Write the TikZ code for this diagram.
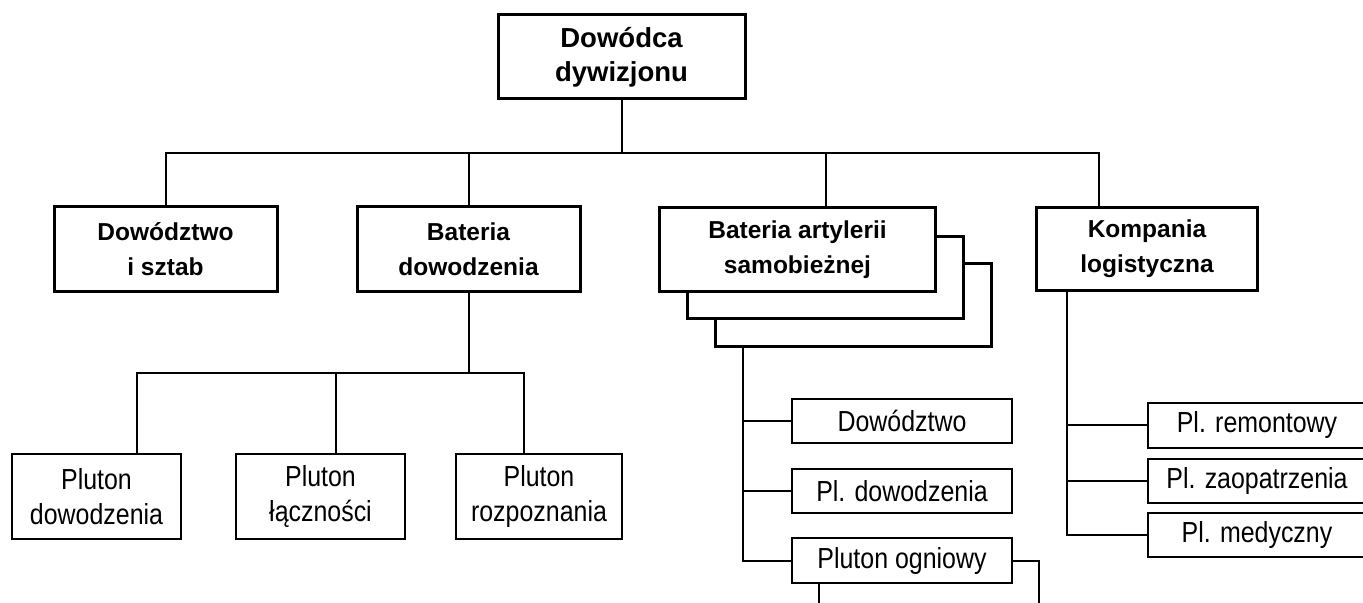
\documentclass[tikz,border=0pt]{standalone}
\usepackage{fontspec}
\setmainfont{Liberation Sans}
\newfontfamily\narrowfont{Liberation Sans}[FakeStretch=0.86]
\begin{document}
\begin{tikzpicture}[x=0.5pt, y=-0.5pt,
    unit/.style={draw, line width=1.5pt, fill=white, align=center, inner sep=0pt,
      font=\bfseries\fontsize{12.25}{17.5}\selectfont},
    sub/.style={draw, line width=1.2pt, fill=white, align=center, inner sep=0pt,
      font=\narrowfont\fontsize{14.5}{17.5}\selectfont},
    link/.style={line width=1pt}]
    \useasboundingbox (0,0) rectangle (1363,603);
    \clip (0,0) rectangle (1363,603);

    % commander
    \node[unit, font=\bfseries\fontsize{13.75}{17}\selectfont, minimum width=123.5pt, minimum height=42pt] (cmd) at (621.5,57) {Dowódca\\dywizjonu};

    % second level
    \node[unit, minimum width=111.5pt, minimum height=42.5pt] (hq) at (165.5,249.5) {Dowództwo\\i sztab};
    \node[unit, minimum width=111.5pt, minimum height=42.5pt] (bdow) at (468.5,249.5) {Bateria\\dowodzenia};
    \node[unit, minimum width=138pt, minimum height=41.5pt] (bas3) at (853,305.5) {};
    \node[unit, minimum width=138pt, minimum height=41pt] (bas2) at (825.5,277.5) {};
    \node[unit, minimum width=138pt, minimum height=42pt] (bas) at (797.5,250) {Bateria artylerii\\samobieżnej};
    \node[unit, minimum width=110.5pt, minimum height=41.5pt] (klog) at (1147,249) {Kompania\\logistyczna};

    \coordinate (bus) at (621.5,153);
    \coordinate (kbus) at (1099,153);
    \draw[link] (cmd.south) -- (bus);
    \draw[link] (hq.north) |- (kbus) -- (kbus |- klog.north);
    \draw[link] (bdow.north |- bus) -- (bdow.north);
    \draw[link] (bus -| bas2) -- (bas.north -| bas2);

    % bateria dowodzenia
    \node[sub, minimum width=84.5pt, minimum height=42.5pt] (pdow) at (96.5,496.5) {Pluton\\dowodzenia};
    \node[sub, minimum width=84.5pt, minimum height=42.5pt] (plac) at (320.5,496.5) {Pluton\\łączności};
    \node[sub, minimum width=83pt, minimum height=42.5pt] (proz) at (539,496.5) {Pluton\\rozpoznania};
    \coordinate (dbusL) at (137,373);
    \coordinate (dbusM) at (336,373);
    \coordinate (dbusR) at (524,373);
    \draw[link] (bdow.south) -- (bdow.south |- dbusL);
    \draw[link] (dbusL |- pdow.north) -- (dbusL) -- (dbusR) -- (dbusR |- proz.north);
    \draw[link] (dbusM) -- (dbusM |- plac.north);

    % bateria artylerii samobieznej
    \node[sub, minimum width=110pt, minimum height=22pt] (dz) at (902,421) {Dowództwo};
    \node[sub, minimum width=110pt, minimum height=22pt] (pld) at (902,491) {Pl. dowodzenia};
    \node[sub, minimum width=110pt, minimum height=23.5pt] (ogn2) at (929,584.5) {};
    \node[sub, minimum width=110pt, minimum height=22.5pt] (ogn) at (902,560.5) {Pluton ogniowy};
    \coordinate (bv) at (743,0);
    \draw[link] (bas3.south -| bv) |- (ogn.west);
    \draw[link] (bv |- dz.west) -- (dz.west);
    \draw[link] (bv |- pld.west) -- (pld.west);

    % kompania logistyczna
    \node[sub, minimum width=109pt, minimum height=22.5pt] (rem) at (1257,425.5) {Pl. remontowy};
    \node[sub, minimum width=109pt, minimum height=22pt] (zao) at (1257,481) {Pl. zaopatrzenia};
    \node[sub, minimum width=109pt, minimum height=22pt] (med) at (1257,535) {Pl. medyczny};
    \coordinate (kv) at (1067,0);
    \draw[link] (klog.south -| kv) |- (med.west);
    \draw[link] (kv |- rem.west) -- (rem.west);
    \draw[link] (kv |- zao.west) -- (zao.west);
\end{tikzpicture}
\end{document}
